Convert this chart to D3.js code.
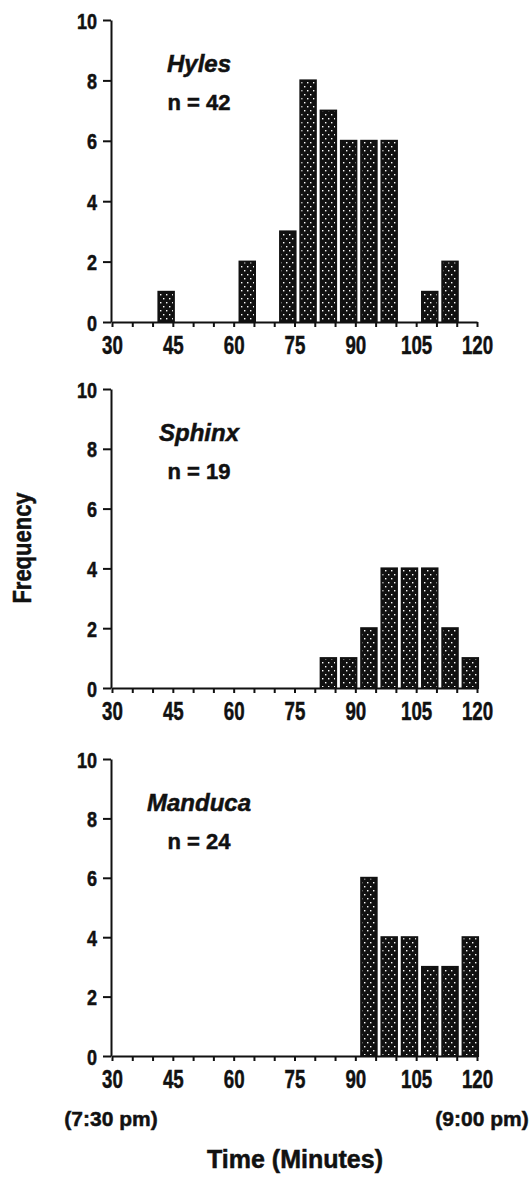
<!DOCTYPE html>
<html>
<head>
<meta charset="utf-8">
<script src="https://cdn.jsdelivr.net/npm/d3@7"></script>
<style>
  body { margin: 0; background: #fff; }
  svg { display: block; font-family: "Liberation Sans", Arial, Helvetica, sans-serif; }
  svg text { stroke: #111; stroke-width: 0.5px; }
</style>
</head>
<body>
<div id="chart"></div>
<script>
// bins are 5-minute classes, given by their first minute
const species = ["Hyles", "Sphinx", "Manduca"];
const sampleSizes = [42, 19, 24];

const hylesBins = [41, 61, 71, 76, 81, 86, 91, 96, 106, 111];
const hylesCounts = [1, 2, 3, 8, 7, 6, 6, 6, 1, 2];

const sphinxBins = [81, 86, 91, 96, 101, 106, 111, 116];
const sphinxCounts = [1, 1, 2, 4, 4, 4, 2, 1];

const manducaBins = [91, 96, 101, 106, 111, 116];
const manducaCounts = [6, 4, 4, 3, 3, 4];

const xTicks = [30, 35, 40, 45, 50, 55, 60, 65, 70, 75, 80, 85, 90, 95, 100, 105, 110, 115, 120];
const xLabels = [30, 45, 60, 75, 90, 105, 120];
const yTicks = [0, 2, 4, 6, 8, 10];

let width = 529, height = 1177;

let panels = [
  { name: species[0], n: sampleSizes[0], bins: hylesBins, counts: hylesCounts, top: 20, bottom: 322 },
  { name: species[1], n: sampleSizes[1], bins: sphinxBins, counts: sphinxCounts, top: 389, bottom: 688 },
  { name: species[2], n: sampleSizes[2], bins: manducaBins, counts: manducaCounts, top: 759, bottom: 1056 }
];

let svg = d3.select("#chart")
            .append("svg")
            .attr("width", width)
            .attr("height", height);

// black bars with white stipple
let pat = svg.append("defs")
             .append("pattern")
             .attr("id", "dots")
             .attr("patternUnits", "userSpaceOnUse")
             .attr("width", 6)
             .attr("height", 8);
pat.append("rect").attr("width", 6).attr("height", 8).attr("fill", "#111");
pat.append("rect").attr("x", 1).attr("y", 2).attr("width", 1.4).attr("height", 1.4).attr("fill", "#fff");
pat.append("rect").attr("x", 4).attr("y", 6).attr("width", 1.4).attr("height", 1.4).attr("fill", "#fff");

let xscale = d3.scaleLinear()
               .domain([30, 120])
               .range([112, 477]);

panels.forEach(p => {
  let g = svg.append("g");

  let yscale = d3.scaleLinear()
                 .domain([0, 10])
                 .range([p.bottom, p.top]);

  let data = p.bins.map((b, i) => ({ start: b, count: p.counts[i] }));

  g.selectAll("rect")
   .data(data)
   .enter()
   .append("rect")
   .attr("x", d => xscale(d.start) + 1.8)
   .attr("width", d => xscale(d.start + 5) - xscale(d.start) - 4.8)
   .attr("y", d => yscale(d.count))
   .attr("height", d => yscale(0) - yscale(d.count))
   .attr("fill", "url(#dots)")
   .attr("stroke", "#111")
   .attr("stroke-width", 2);

  let yaxis = g.append("g")
               .attr("transform", `translate(111,0)`)
               .call(d3.axisLeft(yscale).tickValues(yTicks).tickSize(8).tickSizeOuter(0));

  yaxis.selectAll("text")
       .attr("x", 0)
       .attr("dy", 0)
       .attr("transform", "translate(-14,8) scale(0.82,1)")
       .attr("text-anchor", "end")
       .attr("font-size", 22)
       .attr("font-weight", "bold")
       .attr("fill", "#111");

  let xaxis = g.append("g")
               .attr("transform", `translate(0,${p.bottom})`)
               .call(d3.axisBottom(xscale).tickValues(xTicks).tickSize(5).tickSizeOuter(0)
                       .tickFormat(d => xLabels.includes(d) ? d : ""));

  xaxis.selectAll("text")
       .attr("y", 0)
       .attr("dy", 0)
       .attr("transform", "translate(0,32) scale(0.72,1)")
       .attr("font-size", 26)
       .attr("font-weight", "bold")
       .attr("fill", "#111");

  [yaxis, xaxis].forEach(a => {
    a.select(".domain").attr("stroke", "#111").attr("stroke-width", 2);
    a.selectAll(".tick line").attr("stroke", "#111").attr("stroke-width", 2);
  });

  g.append("text")
   .text(p.name)
   .attr("x", 199)
   .attr("y", p.top + 52)
   .attr("text-anchor", "middle")
   .attr("font-size", 24)
   .attr("font-weight", "bold")
   .attr("font-style", "italic")
   .attr("fill", "#111");

  g.append("text")
   .text("n = " + p.n)
   .attr("x", 199)
   .attr("y", p.top + 90)
   .attr("text-anchor", "middle")
   .attr("font-size", 22)
   .attr("font-weight", "bold")
   .attr("fill", "#111");
});

svg.append("text")
   .text("Frequency")
   .attr("transform", "translate(31,548) rotate(-90) scale(0.88,1)")
   .attr("text-anchor", "middle")
   .attr("font-size", 25)
   .attr("font-weight", "bold")
   .attr("fill", "#111");

svg.append("text")
   .text("(7:30 pm)")
   .attr("x", 111)
   .attr("y", 1126)
   .attr("text-anchor", "middle")
   .attr("font-size", 21)
   .attr("font-weight", "bold")
   .attr("fill", "#111");

svg.append("text")
   .text("(9:00 pm)")
   .attr("x", 482)
   .attr("y", 1126)
   .attr("text-anchor", "middle")
   .attr("font-size", 21)
   .attr("font-weight", "bold")
   .attr("fill", "#111");

svg.append("text")
   .text("Time (Minutes)")
   .attr("x", 295)
   .attr("y", 1168)
   .attr("text-anchor", "middle")
   .attr("font-size", 25)
   .attr("font-weight", "bold")
   .attr("fill", "#111");
</script>
</body>
</html>
